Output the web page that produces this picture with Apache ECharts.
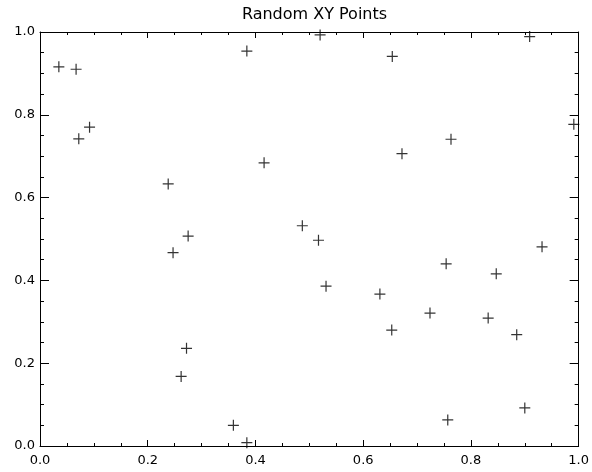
<!DOCTYPE html>
<html>
<head>
<meta charset="utf-8">
<script src="https://cdn.jsdelivr.net/npm/echarts@6/dist/echarts.min.js"></script>
<style>
html,body{margin:0;padding:0;background:#fff;}
#chart{width:592px;height:472px;}
</style>
</head>
<body>
<div id="chart"></div>
<script>
var chartTitle = "Random XY Points";
var xValues = [0.035, 0.067, 0.072, 0.092, 0.238, 0.247, 0.262, 0.272, 0.275, 0.359, 0.384, 0.384, 0.416, 0.487, 0.517, 0.520, 0.531, 0.631, 0.653, 0.654, 0.672, 0.724, 0.754, 0.757, 0.763, 0.832, 0.847, 0.885, 0.900, 0.909, 0.932, 0.991];
var yValues = [0.916, 0.910, 0.742, 0.770, 0.633, 0.467, 0.168, 0.236, 0.507, 0.050, 0.954, 0.008, 0.684, 0.532, 0.497, 0.993, 0.386, 0.367, 0.280, 0.941, 0.706, 0.321, 0.440, 0.063, 0.741, 0.309, 0.416, 0.269, 0.092, 0.989, 0.481, 0.777];
var axisMin = 0.0;
var axisMax = 1.0;
var majorInterval = 0.2;

var points = xValues.map(function (x, i) { return [x, yValues[i]]; });

var chart = echarts.init(document.getElementById('chart'), null, {renderer: 'canvas'});
var font = 'DejaVu Sans';
function fmt(v) { return v.toFixed(1); }

function makeX(pos, showLabel) {
  return {
    type: 'value', position: pos, min: axisMin, max: axisMax, interval: majorInterval,
    axisLine: {show: true, onZero: false, lineStyle: {color: '#000', width: 1}},
    axisTick: {show: true, inside: true, length: 6, lineStyle: {color: '#000', width: 1}},
    minorTick: {show: true, splitNumber: 4, length: 3, lineStyle: {color: '#000', width: 1}},
    splitLine: {show: false},
    axisLabel: {show: showLabel, color: '#000', fontFamily: font, fontSize: 13, margin: 8, formatter: fmt, showMinLabel: true, showMaxLabel: true}
  };
}
function makeY(pos, showLabel) {
  return {
    type: 'value', position: pos, min: axisMin, max: axisMax, interval: majorInterval,
    axisLine: {show: true, onZero: false, lineStyle: {color: '#000', width: 1}},
    axisTick: {show: true, inside: true, length: 9, lineStyle: {color: '#000', width: 1}},
    minorTick: {show: true, splitNumber: 4, length: 4, lineStyle: {color: '#000', width: 1}},
    splitLine: {show: false},
    axisLabel: {show: showLabel, color: '#000', fontFamily: font, fontSize: 13, margin: 5, formatter: fmt, showMinLabel: true, showMaxLabel: true}
  };
}

chart.setOption({
  animation: false,
  backgroundColor: '#fff',
  title: {
    text: chartTitle, left: 309.5, top: 2, textAlign: 'center',
    textStyle: {color: '#000', fontFamily: font, fontSize: 16, fontWeight: 'normal'}
  },
  grid: {left: 40, right: 13, top: 32, bottom: 26, containLabel: false},
  xAxis: [makeX('bottom', true), makeX('top', false)],
  yAxis: [makeY('left', true), makeY('right', false)],
  series: [{
    type: 'scatter',
    xAxisIndex: 0, yAxisIndex: 0,
    data: points,
    clip: false,
    symbol: 'path://M0,5L10,5M5,0L5,10',
    symbolSize: 11,
    itemStyle: {color: 'none', borderColor: '#000', borderWidth: 1.2},
    emphasis: {disabled: true}
  }]
});
</script>
</body>
</html>
